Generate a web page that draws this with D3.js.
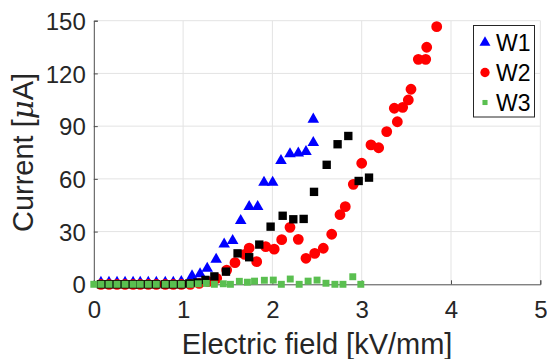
<!DOCTYPE html>
<html>
<head>
<meta charset="utf-8">
<script src="https://cdn.jsdelivr.net/npm/d3@7"></script>
<style>
  body { margin: 0; background: #fff; }
  svg { display: block; font-family: "Liberation Sans", Arial, sans-serif; }
</style>
</head>
<body>
<div id="chart"></div>
<script>
// near-zero field values shared by all samples
const lowField = [0.08, 0.17, 0.26, 0.35, 0.44, 0.52, 0.61, 0.70, 0.80, 0.89, 0.98];

const w1Field = lowField.concat([1.10, 1.19, 1.27, 1.37, 1.46, 1.555, 1.645, 1.74, 1.835, 1.906, 2.003, 2.096, 2.197, 2.29, 2.376, 2.458, 2.458]);
const w1Current = [1, 1, 1, 1, 1, 1, 1, 1, 1, 1, 1.5, 4.7, 5.9, 9.1, 14.2, 22.9, 24.8, 36.2, 44.2, 44.2, 58, 58, 70.3, 74.2, 74.6, 75.5, 80.6, 93.9];

const w2Field = lowField.concat([1.08, 1.18, 1.28, 1.376, 1.488, 1.581, 1.69, 1.74, 1.824, 1.925, 2.02, 2.104, 2.197, 2.29, 2.376, 2.474, 2.57, 2.664, 2.757, 2.816, 2.906, 3.0, 3.104, 3.19, 3.28, 3.365, 3.399, 3.459, 3.522, 3.552, 3.634, 3.717, 3.728, 3.84]);
const w2Current = [0, 0, 0, 0, 0, 0, 0, 0, 0, 0, 0, 0, 0.5, 1.5, 3.4, 8.1, 12.3, 17, 20.6, 12.9, 21.4, 20, 25.4, 32.4, 25.6, 14.8, 17.6, 20.5, 28.5, 39.6, 44.2, 56.9, 68.9, 79.3, 77.7, 86.9, 100.2, 92.5, 100.7, 104.9, 111, 128, 128, 134.9, 146.6];

const refField = lowField.concat([1.07, 1.16, 1.25, 1.35, 1.48, 1.61, 1.74, 1.853, 1.98, 2.115, 2.234, 2.35, 2.466, 2.608, 2.73, 2.85, 2.966, 3.082]);
const refCurrent = [0, 0, 0, 0, 0, 0, 0, 0, 0, 0, 0, 0.5, 1, 2.5, 4.5, 7.2, 17.6, 15.4, 22.6, 32.8, 39, 37, 37.2, 52.6, 68, 79.7, 84.4, 58.8, 60.7];

const w3Field = [0.0].concat(lowField, [1.08, 1.17, 1.26, 1.35, 1.45, 1.53, 1.63, 1.72, 1.80, 1.91, 2.01, 2.10, 2.20, 2.30, 2.40, 2.50, 2.60, 2.70, 2.79, 2.90, 2.99]);
const w3Current = [0, 0, 0, 0, 0, 0, 0, 0, 0, 0, 0, 0, 0, 0.3, 0.5, 0, 0.3, 0, 1.7, 1.2, 1.8, 2.3, 2.4, 0, 3, 0, 1.8, 2.4, 0.6, 0, 0, 4.3, 0];

const xTicks = [0, 1, 2, 3, 4, 5];
const yTicks = [0, 30, 60, 90, 120, 150];

const zip = (xs, ys) => xs.map((x, i) => ({ x: x, y: ys[i] }));

const series = [
  { name: "W1", data: zip(w1Field, w1Current), shape: d3.symbolTriangle, size: 58, color: "#0000ff", legend: true },
  { name: "W2", data: zip(w2Field, w2Current), shape: d3.symbolCircle, size: 92, color: "#ff0000", legend: true },
  { name: "ref", data: zip(refField, refCurrent), shape: d3.symbolSquare, size: 70, color: "#000000", legend: false },
  { name: "W3", data: zip(w3Field, w3Current), shape: d3.symbolSquare, size: 48, color: "#5abf50", legend: true }
];

const width = 547, height = 359;
const margin = { left: 93.8, right: 6.7, top: 20.7, bottom: 74.7 };

const svg = d3.select("#chart")
  .append("svg")
  .attr("width", width)
  .attr("height", height);

const x = d3.scaleLinear()
  .domain([0, 5])
  .range([margin.left, width - margin.right]);

const y = d3.scaleLinear()
  .domain([0, 150])
  .range([height - margin.bottom, margin.top]);

// grid
svg.append("g")
  .selectAll("line")
  .data(xTicks.slice(1))
  .join("line")
  .attr("x1", d => x(d)).attr("x2", d => x(d))
  .attr("y1", y(0)).attr("y2", y(150))
  .attr("stroke", "#e3e3e3");

svg.append("g")
  .selectAll("line")
  .data(yTicks.slice(1))
  .join("line")
  .attr("x1", x(0)).attr("x2", x(5))
  .attr("y1", d => y(d)).attr("y2", d => y(d))
  .attr("stroke", "#e3e3e3");

// axes, MATLAB style ticks pointing inward
const xAxis = d3.axisBottom(x).tickValues(xTicks).tickFormat(d3.format("d")).tickSize(-4).tickPadding(17);
const yAxis = d3.axisLeft(y).tickValues(yTicks).tickFormat(d3.format("d")).tickSize(-4).tickPadding(8);

const gx = svg.append("g")
  .attr("transform", `translate(0, ${y(0)})`)
  .call(xAxis);

const gy = svg.append("g")
  .attr("transform", `translate(${x(0)}, 0)`)
  .call(yAxis);

[gx, gy].forEach(g => {
  g.select(".domain").attr("stroke", "#4d4d4d");
  g.selectAll(".tick line").attr("stroke", "#4d4d4d");
  g.selectAll(".tick text")
    .attr("fill", "#262626")
    .style("font-size", "24px")
    .style("font-family", "'Liberation Sans', Arial, sans-serif");
});
gy.selectAll(".tick text").attr("dy", "0.36em");

// markers
series.forEach(s => {
  svg.append("g")
    .selectAll("path")
    .data(s.data)
    .join("path")
    .attr("transform", d => `translate(${x(d.x)}, ${y(d.y)})`)
    .attr("d", d3.symbol().type(s.shape).size(s.size))
    .attr("fill", s.color);
});

// axis labels
svg.append("text")
  .attr("x", (x(0) + x(5)) / 2)
  .attr("y", 354)
  .attr("text-anchor", "middle")
  .attr("fill", "#262626")
  .style("font-size", "29px")
  .text("Electric field [kV/mm]");

const yl = svg.append("text")
  .attr("transform", `translate(33, ${(y(0) + y(150)) / 2}) rotate(-90)`)
  .attr("text-anchor", "middle")
  .attr("fill", "#262626")
  .style("font-size", "29px");
yl.append("tspan").text("Current [");
yl.append("tspan").style("font-style", "italic").style("font-family", "'DejaVu Serif', serif").text("μ");
yl.append("tspan").text("A]");

// legend
const legendItems = series.filter(s => s.legend);
const legendMarkerSize = { W1: 52, W2: 68, W3: 26 };

const lg = svg.append("g");
lg.append("rect")
  .attr("x", 473.5).attr("y", 25.5)
  .attr("width", 61).attr("height", 91.5)
  .attr("fill", "#fff")
  .attr("stroke", "#262626");

const entries = lg.selectAll("g.entry")
  .data(legendItems)
  .join("g")
  .attr("class", "entry")
  .attr("transform", (d, i) => `translate(485, ${42.5 + i * 30})`);

entries.append("path")
  .attr("d", d => d3.symbol().type(d.shape).size(legendMarkerSize[d.name])())
  .attr("fill", d => d.color);

entries.append("text")
  .attr("x", 11)
  .attr("dy", "0.36em")
  .attr("fill", "#000")
  .style("font-size", "23px")
  .text(d => d.name);
</script>
</body>
</html>
